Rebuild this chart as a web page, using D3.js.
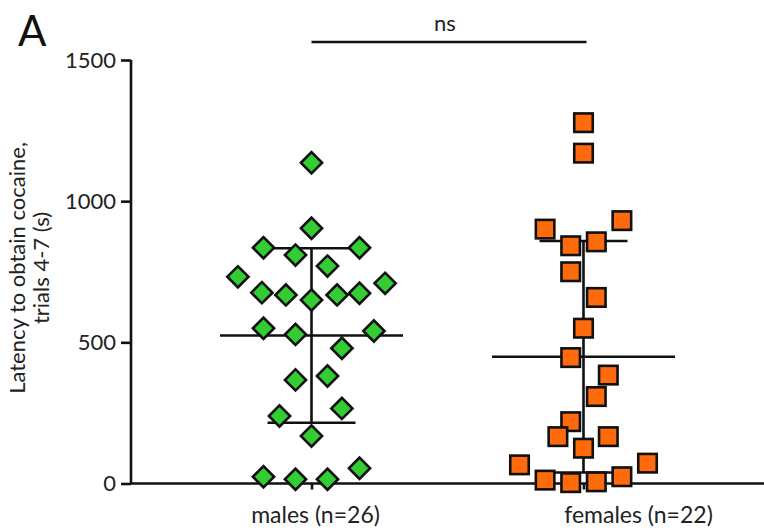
<!DOCTYPE html>
<html>
<head>
<meta charset="utf-8">
<script src="https://cdn.jsdelivr.net/npm/d3@7"></script>
<style>
  html, body { margin: 0; padding: 0; background: #fff; }
  svg { display: block; font-family: Lato, "Open Sans", sans-serif; }
</style>
</head>
<body>
<svg id="chart" width="764" height="531"></svg>
<script>
// ---- data ----
const categories = ["males", "females"];
const categoryLabels = ["males (n=26)", "females (n=22)"];
const maleValues = [1136, 904, 835, 835, 809, 770, 732, 709, 676, 668, 650, 668, 674,
                    550, 528, 540, 479, 367, 381, 239, 266, 168, 24, 15, 15, 54];
// horizontal slot of each point within its column (column-slot units)
const maleSlots = [0, 0, -3, 3, -1, 1, -4.6, 4.6, -3.1, -1.6, 0, 1.6, 3,
                   -3, -1, 3.9, 1.9, -1, 1, -2, 1.9, 0, -3, -1, 1, 3];
const femaleValues = [1278, 1170, 931, 901, 842, 856, 750, 659, 550, 446, 384, 308,
                      219, 166, 166, 125, 66, 72, 12, 3, 6, 24];
const femaleSlots = [0, 0, 2.4, -2.4, -0.8, 0.8, -0.8, 0.8, 0, -0.8, 1.55, 0.8,
                     -0.8, -1.6, 1.55, 0, -4, 4, -2.4, -0.8, 0.8, 2.4];
const groupMeans = [524, 449];
const groupSD = [309, 410];
const yTicks = [0, 500, 1000, 1500];
const yTitle = ["Latency to obtain cocaine,", "trials 4-7 (s)"];
const panelLetter = "A";
const sigLabel = "ns";

// ---- layout ----
const svg = d3.select("#chart");
const W = 764, H = 531;
const axisX = 131, axisY0 = 483.5, axisTop = 60;
const slotStep = 16;
const lw = 2.6;
const ink = "#111";

const y = d3.scaleLinear().domain([0, 1500]).range([axisY0, axisTop]);
const x = d3.scalePoint().domain(categories).range([311.5, 583.5]);

// y axis
const yAxis = d3.axisLeft(y).tickValues(yTicks).tickSize(10).tickPadding(5).tickFormat(d3.format("d"));
const gy = svg.append("g").attr("transform", `translate(${axisX},0)`).call(yAxis);
gy.select(".domain").attr("d", `M0,${axisTop}V${axisY0}`).attr("stroke", ink).attr("stroke-width", lw);
gy.selectAll(".tick line").attr("stroke", ink).attr("stroke-width", lw);
gy.selectAll(".tick text").attr("fill", "#222").style("font-size", "22px").style("font-family", "Lato, sans-serif");

// x axis
const labelShift = [3.5, 54.5];
const xAxis = d3.axisBottom(x).tickSize(6).tickFormat((d, i) => categoryLabels[i]).tickPadding(17);
const gx = svg.append("g").attr("transform", `translate(0,${axisY0})`).call(xAxis);
gx.select(".domain").attr("d", `M${axisX},0H${W}`).attr("stroke", ink).attr("stroke-width", lw);
gx.selectAll(".tick line").attr("stroke", ink).attr("stroke-width", lw);
gx.selectAll(".tick text").attr("fill", "#222").style("font-size", "23px").style("font-family", "Lato, sans-serif")
  .attr("dx", (d, i) => labelShift[i]);

// y title
const yt = svg.append("text")
  .attr("transform", `translate(25,268) rotate(-90)`)
  .attr("text-anchor", "middle")
  .attr("fill", "#222")
  .style("font-size", "22px");
yt.selectAll("tspan").data(yTitle).join("tspan")
  .attr("x", 0).attr("dy", (d, i) => i === 0 ? 0 : 24).text(d => d);

// panel letter
svg.append("text").attr("x", 18).attr("y", 46).attr("fill", "#111")
  .style("font-size", "42px").text(panelLetter);

// significance bar
svg.append("line").attr("x1", x("males")).attr("x2", x("females") + 3)
  .attr("y1", 42).attr("y2", 42).attr("stroke", ink).attr("stroke-width", lw);
svg.append("text").attr("x", 445).attr("y", 31)
  .attr("text-anchor", "middle").attr("fill", "#222").style("font-size", "22px").text(sigLabel);

// mean ± SD
const meanHalf = 91.5, capHalf = 44;
categories.forEach((c, i) => {
  const cx = x(c);
  const g = svg.append("g").attr("stroke", ink).attr("stroke-width", lw);
  g.append("line").attr("x1", cx - meanHalf).attr("x2", cx + meanHalf)
    .attr("y1", y(groupMeans[i])).attr("y2", y(groupMeans[i]));
  g.append("line").attr("x1", cx).attr("x2", cx)
    .attr("y1", y(groupMeans[i] - groupSD[i])).attr("y2", y(groupMeans[i] + groupSD[i]));
  [groupMeans[i] - groupSD[i], groupMeans[i] + groupSD[i]].forEach(v => {
    g.append("line").attr("x1", cx - capHalf).attr("x2", cx + capHalf)
      .attr("y1", y(v)).attr("y2", y(v));
  });
});

// points
const diamond = d3.symbol().type(d3.symbolSquare).size(15 * 15);
svg.append("g").selectAll("path").data(maleValues).join("path")
  .attr("d", diamond)
  .attr("transform", (d, i) => `translate(${x("males") + maleSlots[i] * slotStep},${y(d)}) rotate(45)`)
  .attr("fill", "#33cc33").attr("stroke", ink).attr("stroke-width", 2.6);

const sq = 18.5;
svg.append("g").selectAll("rect").data(femaleValues).join("rect")
  .attr("x", (d, i) => x("females") + femaleSlots[i] * slotStep - sq / 2)
  .attr("y", d => y(d) - sq / 2)
  .attr("width", sq).attr("height", sq)
  .attr("fill", "#ff6a0d").attr("stroke", ink).attr("stroke-width", 2.6);
</script>
</body>
</html>
